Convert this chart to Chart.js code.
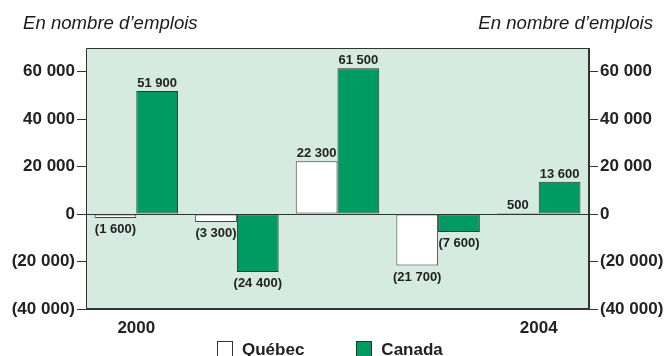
<!DOCTYPE html>
<html lang="fr">
<head>
<meta charset="utf-8">
<title>Variation de l'emploi</title>
<script src="https://cdn.jsdelivr.net/npm/chart.js@4/dist/chart.umd.min.js"></script>
<style>
  body { margin: 0; background: #fff; font-family: "Liberation Sans", Arial, sans-serif; }
  #wrap { position: relative; width: 666px; height: 356px; overflow: hidden; }
  canvas { position: absolute; left: 0; top: 0; }
  .unit { position: absolute; top: 14px; font-style: italic; font-size: 18.6px; line-height: 18px; color: #1a1a1a; }
  #legend { position: absolute; left: 217px; top: 341px; display: flex; gap: 52px; }
  .item { display: flex; align-items: center; font-weight: bold; font-size: 17px; line-height: 15px; color: #222; }
  .item span.box { width: 14px; height: 14px; border: 1px solid #333; margin-right: 9px; }
</style>
</head>
<body>
<div id="wrap">
  <canvas id="emploiChart" width="666" height="356"></canvas>
  <div class="unit" style="left:23px">En nombre d’emplois</div>
  <div class="unit" style="right:13px">En nombre d’emplois</div>
  <div id="legend"></div>
</div>
<script>
const years = ["2000", "2001", "2002", "2003", "2004"];
const shownYears = ["2000", "2004"];
const quebec = [-1600, -3300, 22300, -21700, 500];
const canada = [51900, -24400, 61500, -7600, 13600];
const yTicks = [-40000, -20000, 0, 20000, 40000, 60000];

const fontFamily = '"Liberation Sans", Arial, sans-serif';
const ink = "#222";

// 20 000 -> "20 000", -20 000 -> "(20 000)"
function fmt(v) {
  const s = String(Math.abs(v)).replace(/\B(?=(\d{3})+(?!\d))/g, " ");
  return v < 0 ? "(" + s + ")" : s;
}

// green panel, frame and zero line behind the bars
const plotFrame = {
  id: "plotFrame",
  beforeDatasetsDraw(chart) {
    const { ctx, chartArea: a, scales } = chart;
    ctx.save();
    ctx.fillStyle = "#d5eae1";
    ctx.fillRect(a.left, a.top, a.right - a.left, a.bottom - a.top);
    ctx.strokeStyle = "#333";
    ctx.lineWidth = 1;
    const y0 = Math.round(scales.y.getPixelForValue(0)) + 0.5;
    ctx.beginPath();
    ctx.moveTo(a.left, y0);
    ctx.lineTo(a.right, y0);
    ctx.moveTo(a.left + 0.5, a.bottom);
    ctx.lineTo(a.left + 0.5, a.top + 0.5);
    ctx.lineTo(a.right, a.top + 0.5);
    ctx.stroke();
    ctx.lineWidth = 2;
    ctx.beginPath();
    ctx.moveTo(a.right, a.top);
    ctx.lineTo(a.right, a.bottom);
    ctx.lineTo(a.left, a.bottom);
    ctx.stroke();
    ctx.restore();
  }
};

// value written above positive bars, below negative ones
const barLabels = {
  id: "barLabels",
  afterDatasetsDraw(chart) {
    const ctx = chart.ctx;
    ctx.save();
    ctx.font = "bold 13px " + fontFamily;
    ctx.fillStyle = ink;
    ctx.textAlign = "center";
    ctx.textBaseline = "alphabetic";
    chart.data.datasets.forEach((ds, i) => {
      chart.getDatasetMeta(i).data.forEach((bar, j) => {
        const v = ds.data[j];
        const y = v >= 0 ? bar.y - 4 : bar.y + 15;
        ctx.fillText(fmt(v), bar.x, y);
      });
    });
    ctx.restore();
  }
};

const yAxis = (position, width) => ({
  type: "linear",
  position: position,
  min: -40000,
  max: 70000,
  afterBuildTicks: (scale) => {
    scale.ticks = yTicks.map((v) => ({ value: v }));
  },
  afterFit: (scale) => { scale.width = width; },
  grid: { drawOnChartArea: false, drawTicks: true, tickLength: 9, color: "#333", lineWidth: 1 },
  border: { display: false },
  ticks: {
    padding: 2,
    color: ink,
    font: { family: fontFamily, size: 17, weight: "bold" },
    callback: (v) => fmt(v)
  }
});

const ctx = document.getElementById("emploiChart").getContext("2d");
const emploiChart = new Chart(ctx, {
  type: "bar",
  data: {
    labels: years,
    datasets: [
      {
        label: "Québec",
        data: quebec,
        backgroundColor: "#ffffff",
        borderColor: "#444",
        borderWidth: 1,
        borderSkipped: false,
        yAxisID: "y"
      },
      {
        label: "Canada",
        data: canada,
        backgroundColor: "#009a63",
        borderColor: "#333",
        borderWidth: 1,
        borderSkipped: false,
        yAxisID: "y"
      }
    ]
  },
  options: {
    responsive: false,
    animation: false,
    layout: { padding: { top: 48, bottom: 13, left: 0, right: 0 } },
    datasets: { bar: { categoryPercentage: 0.83, barPercentage: 1 } },
    plugins: { legend: { display: false }, tooltip: { enabled: false } },
    scales: {
      x: {
        grid: { display: false, drawTicks: false },
        border: { display: false },
        afterFit: (scale) => { scale.height = 34; },
        ticks: {
          padding: 9,
          autoSkip: false,
          maxRotation: 0,
          color: ink,
          font: { family: fontFamily, size: 17, weight: "bold" },
          callback: function (v, i) {
            const y = this.getLabelForValue(v);
            return shownYears.includes(y) ? y : "";
          }
        }
      },
      y: yAxis("left", 86),
      y2: yAxis("right", 77)
    }
  },
  plugins: [plotFrame, barLabels]
});

// legend built from the datasets
const legendEl = document.getElementById("legend");
emploiChart.data.datasets.forEach((ds) => {
  const item = document.createElement("div");
  item.className = "item";
  item.innerHTML = `<span class="box" style="background:${ds.backgroundColor}"></span>${ds.label}`;
  legendEl.appendChild(item);
});
</script>
</body>
</html>
